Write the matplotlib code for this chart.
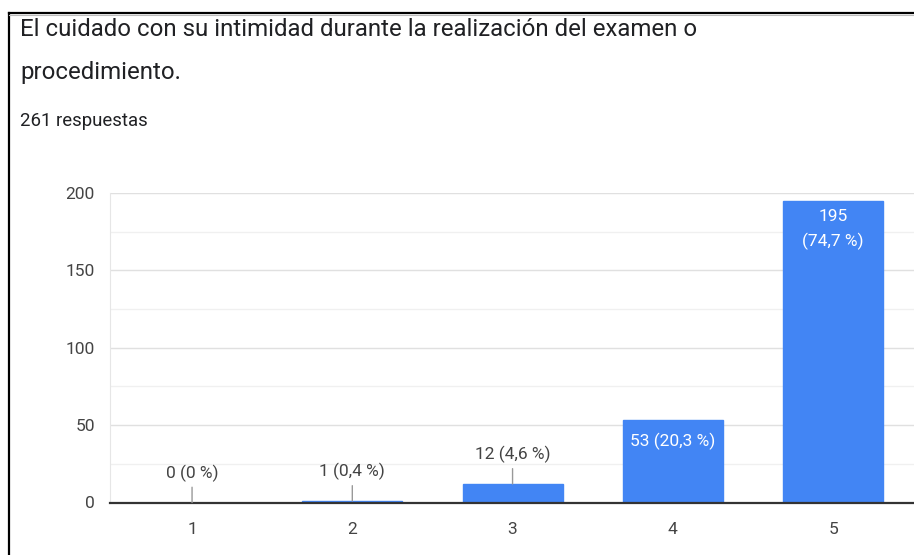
import matplotlib.pyplot as plt
from matplotlib.lines import Line2D

# datos de la pregunta
categorias = [1, 2, 3, 4, 5]
respuestas = [0, 1, 12, 53, 195]
porcentajes = ["0 %", "0,4 %", "4,6 %", "20,3 %", "74,7 %"]
total = 261
titulo = ["El cuidado con su intimidad durante la realización del examen o",
          "procedimiento."]

plt.rcParams['font.family'] = ['Roboto', 'DejaVu Sans']

azul = "#4285F4"
gris = "#444444"

fig = plt.figure(figsize=(9.14, 5.55), dpi=100)
ax = fig.add_axes([110 / 914, (555 - 502.5) / 555, 1 - 110 / 914, (502.5 - 193) / 555])

ax.bar(categorias, respuestas, width=0.624, color=azul, edgecolor=azul, linewidth=1, zorder=3)

ax.set_xlim(0.488, 5.505)
ax.set_ylim(0, 200)
ax.set_yticks([0, 50, 100, 150, 200])
ax.set_yticks([25, 75, 125, 175], minor=True)
ax.set_xticks(categorias)
ax.grid(axis='y', which='major', color="#e0e0e0", linewidth=1, zorder=0)
ax.grid(axis='y', which='minor', color="#f0f0f0", linewidth=1, zorder=0)
ax.tick_params(axis='both', which='both', length=0, labelsize=12.5, colors=gris)
ax.tick_params(axis='y', pad=11)
ax.tick_params(axis='x', pad=14)
for s in ['top', 'right']:
    ax.spines[s].set_visible(False)
ax.spines['left'].set_color("#e6e6e6")
ax.spines['bottom'].set_color("#333333")
ax.spines['bottom'].set_linewidth(1.6)
ax.spines['bottom'].set_zorder(4)

# etiquetas de cada barra
for c, v, p in zip(categorias, respuestas, porcentajes):
    if v > 40:
        if v > 150:
            ax.annotate(f"{v}\n({p})", (c, v), xytext=(0, -6), textcoords='offset points',
                        ha='center', va='top', color='white', fontsize=12.5,
                        linespacing=1.65, zorder=5)
        else:
            ax.annotate(f"{v} ({p})", (c, v), xytext=(0, -9), textcoords='offset points',
                        ha='center', va='top', color='white', fontsize=12.5, zorder=5)
    else:
        ax.annotate(f"{v} ({p})", (c, v), xytext=(0, 15), textcoords='offset points',
                    ha='center', va='bottom', color=gris, fontsize=12.5, zorder=5,
                    arrowprops=dict(arrowstyle='-', color='#999999', lw=1,
                                    shrinkA=2, shrinkB=0))

fig.text(20 / 914, 1 - 30 / 555, titulo[0], fontsize=17.3, color="#202124", va='center')
fig.text(20 / 914, 1 - 73 / 555, titulo[1], fontsize=17.3, color="#202124", va='center')
fig.text(20 / 914, 1 - 121 / 555, f"{total} respuestas", fontsize=13.4, color="#202124", va='center')

# marco de la captura
fig.add_artist(Line2D([9 / 914, 9 / 914], [0, 1 - 13 / 555], color='black', lw=1.6))
fig.add_artist(Line2D([9 / 914, 913 / 914], [1 - 13 / 555, 1 - 13 / 555], color='black', lw=1.6))
fig.add_artist(Line2D([9 / 914, 913 / 914], [1 - 15 / 555, 1 - 15 / 555], color='#bbbbbb', lw=0.8))

fig.savefig("out.png", dpi=100)
